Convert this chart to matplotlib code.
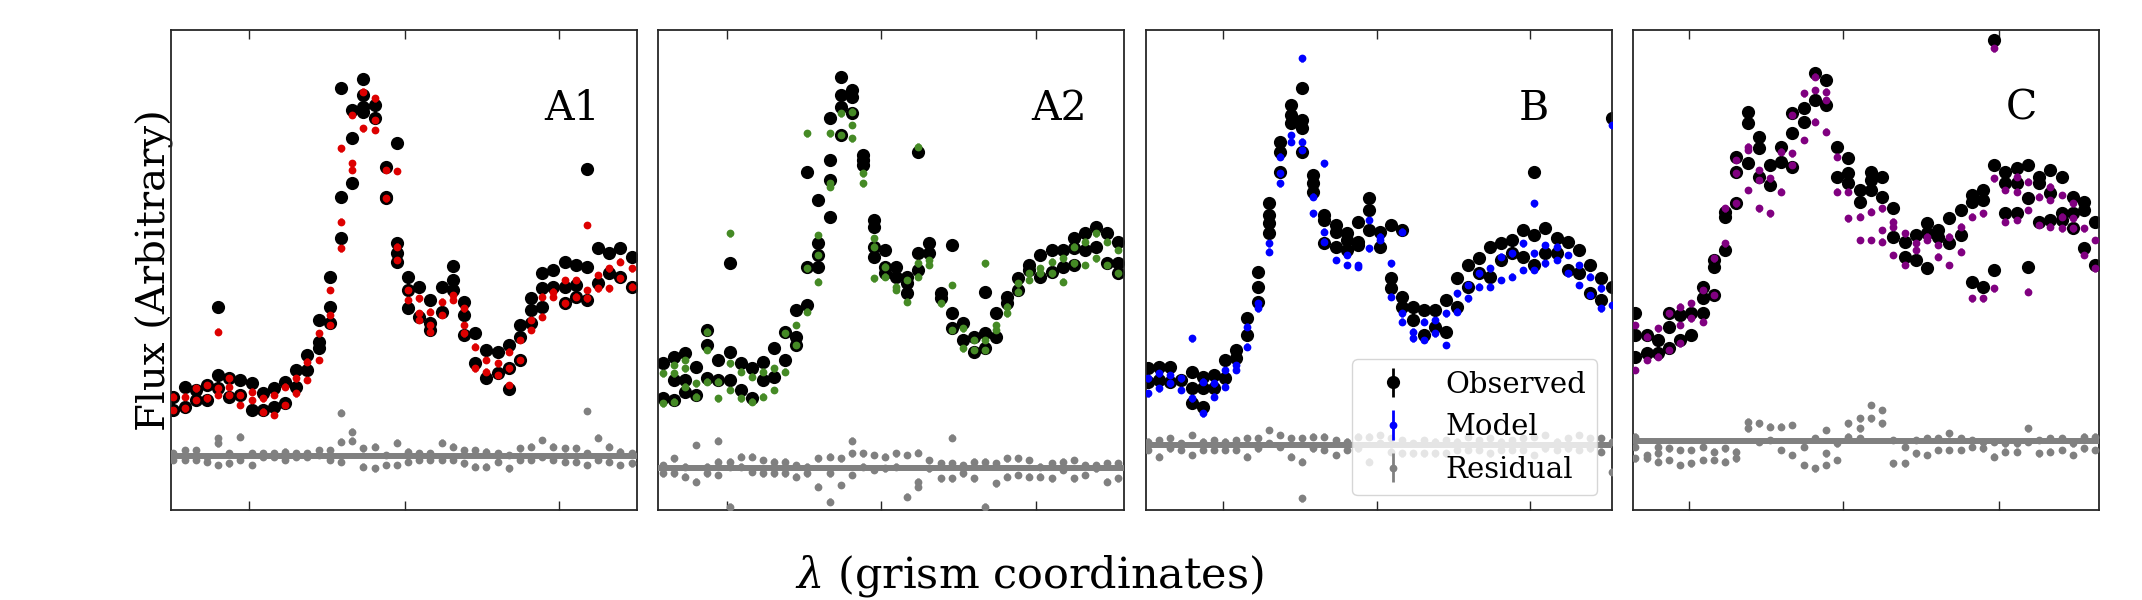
import matplotlib
matplotlib.use('Agg')
import matplotlib.pyplot as plt
import numpy as np

plt.rcParams['font.family'] = ['DejaVu Serif']
plt.rcParams['mathtext.fontset'] = 'dejavuserif'

panel_names = ['A1', 'A2', 'B', 'C']
model_colors = ['#dd0000', '#458a25', '#0000ff', '#800080']
residual_levels = [16.2, 12.7, 19.5, 20.8]
obs_err = 1.0
model_err = 1.0

# Flux values (arbitrary units) per wavelength column; several exposures per column
a1_obs = [
    [34, 30], [37, 31], [36, 33], [37.5, 33], [61, 40.5, 36.5], [39.5, 34], [39, 34.5], [38, 30], [35, 30], [36.5, 31],
    [38.5, 32], [42, 37], [46.5, 42], [57, 50.5, 48.5], [70, 61, 56], [126.5, 94, 81.5], [120, 111.5, 98],
    [129.2, 124.5, 121, 119.5], [121.5, 117.5], [103, 94, 93.5],
    [110.2, 80, 77, 74.5], [70, 66, 60.5], [67, 58], [63, 56, 54], [67, 59.5], [73.2, 69, 66], [62.5, 58.5, 52.5],
    [53, 44], [48, 39.5], [47.5, 41],
    [49.5, 42.5, 36.2], [55.5, 52, 45], [63.5, 60, 56], [71, 66.5, 61], [72, 67], [74.5, 67, 62], [73.5, 67.5, 64],
    [102.3, 73, 63], [78.5, 68], [77, 71],
    [78.5, 70], [76, 67]]
a1_model = [
    [34, 30], [34, 30.5], [36.5, 33], [37.5, 33.5], [53.5, 36.5, 34.5], [39.5, 37, 34.5], [34.5, 31.5], [35.5, 33],
    [33.5, 29.5], [34.5, 28.5],
    [37, 31.5], [39.5, 35], [44.5, 39], [53, 45], [66, 58.5, 55.5], [108.5, 86.5, 78.5], [118.5, 104, 102],
    [125.5, 114.5], [123.5, 117, 114], [102, 93.5],
    [101.7, 79, 75], [66, 63], [63.5, 59, 57], [59.5, 55.5, 53.5], [62.5, 58.5], [64.5, 63], [60.5, 55.5, 53],
    [49, 42.5], [45, 41.5], [44, 40.5],
    [47.5, 42.5, 37.5], [51, 45], [57, 54], [64, 58], [65.5, 64], [69, 62], [69, 64], [85.5, 66, 63.5], [70.5, 66.5],
    [72.5, 66.5],
    [74.5, 69.5], [72.5, 67]]
a1_res = [
    [17, 15], [18, 15], [18, 15], [16, 14.5], [21.5, 20, 13.5], [17, 14], [22, 15], [17, 13.5], [17, 16], [17, 16],
    [17.5, 15], [17, 16], [17, 16], [18, 16.5], [18, 15], [29.2, 20.5, 14.5], [23.5, 20.8], [18.5, 13], [19, 12.5],
    [16.5, 13.5],
    [20.2, 13.5], [17.5, 14.5], [17, 15], [17, 15], [20.2, 15], [19, 15], [18, 14], [18, 13], [17.5, 13], [17, 14.5],
    [16.5, 12.5], [18.5, 15], [19, 15], [21, 16], [19, 15], [18.5, 14.5], [18.5, 14.5], [29.7, 17, 13.5], [21.7, 15],
    [19, 14.5],
    [17.5, 13.5], [17, 14]]

a2_obs = [
    [44, 33.5], [46, 39, 33], [47, 39, 35.5], [43, 34.5], [54, 49.5, 39.5], [45, 39], [74, 47.5, 39], [44, 36],
    [42.5, 33.5], [44.5, 39],
    [48.5, 40], [53.5, 45], [60, 52, 49.5], [101.5, 73, 61.5], [93, 80, 76.5, 73], [117.5, 105, 99, 88],
    [130, 124.5, 121, 112.5], [126, 124, 119], [106.5, 105, 103.5], [87, 85, 79, 76],
    [78, 73, 71], [73, 70], [70, 68, 65], [107.5, 77, 72], [80, 77], [65, 63.5], [79.5, 59, 54.5], [56, 51],
    [52, 47.5], [65.5, 53, 48.5],
    [59, 52], [64, 62], [69.5, 66], [73.5, 72], [76.5, 70], [78, 71.5], [78, 73], [81.5, 78.5, 73.5], [83, 78],
    [85, 79],
    [83, 74], [80.5, 74, 71]]
a2_model = [
    [41, 32], [43.5, 41, 32.5], [45, 42.5, 37], [38, 34], [53.5, 48, 38.5], [38.5, 33.5], [83, 44, 36], [41.5, 33.5],
    [40, 32.5], [41.5, 34],
    [42.5, 36], [53, 41.5], [55.5, 49.5], [113, 72.5, 59.5], [82.5, 76.5, 68.5], [113, 98, 97], [119, 112.5],
    [119.5, 115.5, 111.5], [101, 98], [81.5, 79, 69.5],
    [73, 70], [67, 66], [69, 62.5], [109, 74, 70], [75, 73.5], [62], [67.5, 54], [54.5, 48.5], [51, 48],
    [74, 51, 48],
    [55.5, 54], [61, 59], [68, 65.5], [71, 69], [72.5, 71], [74.5, 71], [75.5, 68.5], [79, 74], [80.5, 73.5],
    [83, 75.5],
    [80.5, 73.5], [78, 71]]
a2_res = [
    [13.5, 11], [15.5, 11], [13, 10], [19.5, 8.5], [13, 11], [20.8, 14.5, 10.5], [14.5, 13, 1], [16, 13], [16, 11.5],
    [15, 11],
    [14.5, 11], [14.5, 11], [13.5, 10], [13, 11], [15.5, 7], [16, 11, 2.5], [15.5, 7.5], [20.8, 17, 10.5], [17, 13],
    [16.5, 12],
    [16, 12.5], [17, 13], [16.5, 4], [17.2, 8.5, 7], [15, 12.5], [14, 9.5], [21.7, 14, 9.5], [13.5, 11], [14.5, 9.5],
    [14.5, 1],
    [14, 8], [15.5, 10], [15.5, 10.5], [15, 10], [13, 10], [14, 9.5], [14.5, 12], [15, 9.5], [13.5, 10.5],
    [13.5, 12.5],
    [14, 8.5], [14, 9.5]]

b_obs = [
    [42.5, 38.5], [43, 39], [43, 38.5], [39], [41.5, 36.5, 32], [40, 36.5, 31], [40.5, 36.5], [45, 39.5], [48, 45.5],
    [57.5, 52.5],
    [71.5, 67, 62.5], [92, 88.5, 86, 83], [110.5, 107.5, 101.5], [121.5, 118.5, 116], [126.5, 117, 114.5, 107.5],
    [100.5, 98, 95.5], [88.5, 87, 80], [85.5, 83.5, 79], [83, 81, 78], [86.5, 80.5, 79.5],
    [93.5, 90, 84], [83.5, 79], [85.5, 69.5, 66.5], [84, 64, 61], [61, 57], [60, 52.5], [60, 55], [63, 53.5],
    [69.5, 61], [73.5, 67],
    [75.5, 71], [79, 70], [80, 75], [81, 77], [84, 76], [101.5, 82.5, 73.5], [84.5, 77], [81.5, 77], [80.5, 72],
    [78, 71],
    [73.5, 65], [69.5, 63], [117.5, 67]]
b_model = [
    [39.5, 35], [41, 36.5], [40.5, 38], [39.5, 36], [51.5, 33.5], [38.5, 29], [38, 34], [42, 37], [43.5, 42], [55, 49],
    [62, 60.5], [80, 77.5], [106, 101, 98], [112.5, 110.5], [135.5, 110.5, 108], [94, 89], [104, 83.5, 80.5], [75],
    [76.5, 73.5], [73.5, 73],
    [87, 78.5], [82, 81], [74, 64], [83.5, 59, 56.5], [53.5, 51.5], [56.5, 51], [57, 53], [59, 49.5], [65, 59.5],
    [67.5, 63.5],
    [71, 67], [72.5, 67], [76, 69], [77, 70], [80, 72], [92, 77, 72], [79.5, 74], [79, 75], [76.5, 71], [73.5, 67.5],
    [70, 64.5], [66.5, 60.5], [115.5, 61.5]]
b_res = [
    [20.5, 18], [21, 16], [21.5, 18.5], [20, 18], [22.5, 16.5], [20.5, 18], [21, 18], [20.5, 18], [21, 18], [21.5, 16],
    [21.5, 18.5], [24, 20], [22.5, 19], [21.5, 16], [21.5, 14.5, 3.5], [22, 18.5], [22, 18], [21, 16.5], [20.5, 18],
    [22, 18.5],
    [22, 14.5], [22.5, 20], [21.5, 17.5], [21, 17], [20, 17], [21, 17], [20.5, 17], [21, 17], [20.5, 18], [22, 18],
    [21, 18], [21.5, 17], [20.5, 18], [21, 18], [21.5, 18], [22, 16.5], [22.5, 18.5], [20.5, 18], [21.5, 18.5],
    [22.5, 18],
    [21.5, 18.5], [21.5, 17.5], [20.5, 11.5]]

c_obs = [
    [59, 52.5, 46], [52.5, 47], [51, 47], [59, 55, 48.5], [58.5, 51], [59, 52.5], [67, 63.5, 59], [75, 73, 64.5],
    [89.5, 88, 78], [106, 101.5, 92],
    [119.5, 116, 104], [112, 108.5, 100], [103.5, 97.5], [109, 104.5], [119, 113, 103], [120.5, 116.5], [131, 123],
    [129, 121.5], [109, 100], [105.5, 101, 98],
    [96, 92.5], [101.5, 99, 96], [100, 94], [90.5, 82], [80.5, 76], [82.5, 75], [86, 83, 72.5], [84, 82], [87.5, 80],
    [90, 82.5],
    [94.5, 92.5, 68.5], [96, 93, 67], [141, 103.5, 72], [101.5, 98, 89], [102.5, 98, 89], [103.5, 93.5, 73],
    [100, 98, 86.5], [102, 95, 87], [100, 89, 87], [94, 89, 84.5],
    [92.5, 90, 78.5], [86.5, 73.5]]
c_model = [
    [55.5, 42], [52, 45], [54.5, 46], [59, 48], [61, 55.5, 50], [62, 57.5], [66, 56.5], [75.5, 64.5], [90.5, 80],
    [105, 101, 92],
    [109, 108, 96], [102, 99, 90.5], [99.5, 89], [107.5, 95.5], [118.5, 107, 103.5], [125, 111], [130, 126, 116.5],
    [125.5, 123, 113.5], [106, 95.5], [95.5, 87.5],
    [88, 81], [89.5, 81], [90.5, 84, 80.5], [86.5, 85, 76.5], [83, 73.5], [80, 78], [82, 81], [79.5, 76], [82, 73.5],
    [85, 77.5],
    [88, 63.5], [89, 63.5], [138.5, 99.5, 66.5], [96, 86.5], [100, 95.5, 87], [98.5, 90, 65.5], [94, 85.5],
    [97, 93, 85], [94.5, 88, 84.5], [92, 87.5, 84.5],
    [84.5, 76.5], [81, 72.5]]
c_res = [
    [22, 19, 15.5], [16.5, 15.5], [19, 17, 14.5], [18.5, 15], [18, 13.5], [18, 14], [19, 15], [17.5, 15], [18.5, 14.5],
    [17.5, 15.5],
    [26.5, 24.5], [26, 20.5], [25, 21], [25, 18], [25.5, 16.5], [19, 13.5], [21.5, 12.5], [24, 17, 13.5], [20, 15],
    [26, 22],
    [27.5, 24.5, 21.5], [31.5, 27.5], [30, 26], [21, 14], [19, 14], [21, 17], [21.5, 16.5], [21.5, 18], [23, 18],
    [21.5, 18],
    [21, 19], [20.5, 18.5], [20.5, 16], [20, 17.5], [20, 17.5], [24.5, 20.5], [21, 17], [21.5, 17.5], [21.5, 18],
    [20, 16.5],
    [22, 18.5], [22, 18]]

panel_obs = [a1_obs, a2_obs, b_obs, c_obs]
panel_model = [a1_model, a2_model, b_model, c_model]
panel_res = [a1_res, a2_res, b_res, c_res]

# column-index ranges and tick positions (grism coordinates)
panel_xlim = [(-0.21, 41.48), (-0.45, 41.53), (-0.15, 42.02), (-0.21, 41.34)]
panel_xticks = [[6.76, 20.68, 34.53], [5.77, 19.67, 33.57], [6.81, 20.72, 34.64], [4.75, 18.55, 32.4]]


def flat(cols):
    xs, ys = [], []
    for i, c in enumerate(cols):
        for v in c:
            xs.append(i)
            ys.append(v)
    return np.array(xs, float), np.array(ys, float)


W, H = 2142, 600
fig = plt.figure(figsize=(W / 100, H / 100), dpi=100)
lefts = [171, 658, 1146, 1633]

for i in range(4):
    ax = fig.add_axes([lefts[i] / W, 90 / H, 466 / W, 480 / H])
    xo, yo = flat(panel_obs[i])
    xm, ym = flat(panel_model[i])
    xr, yr = flat(panel_res[i])
    h1 = ax.errorbar(xo, yo, yerr=obs_err, fmt='o', color='black', ms=9.5, mew=0,
                     elinewidth=2, label='Observed', zorder=2)
    h2 = ax.errorbar(xm, ym, yerr=model_err, fmt='o', color=model_colors[i], ms=5.6, mew=0,
                     elinewidth=2, label='Model', zorder=3)
    h3 = ax.errorbar(xr, yr, yerr=model_err, fmt='o', color='gray', ms=5.6, mew=0,
                     elinewidth=2, label='Residual', zorder=3)
    ax.axhline(residual_levels[i], color='gray', lw=4.3, zorder=3)
    ax.set_xlim(*panel_xlim[i])
    ax.set_ylim(0, 144)
    ax.set_yticks([])
    ax.set_xticks(panel_xticks[i])
    ax.tick_params(axis='x', direction='in', top=True, bottom=True, labelbottom=False,
                   length=6.5, width=1.0, color='0.15')
    for s in ax.spines.values():
        s.set_linewidth(1.3)
        s.set_color('0.15')
    ax.text(0.80, 0.8125, panel_names[i], transform=ax.transAxes, fontsize=29.5,
            ha='left', va='baseline')
    if i == 0:
        ax.set_ylabel('Flux (Arbitrary)', fontsize=29, labelpad=-2)
    if i == 2:
        ax.legend(handles=[h1, h2, h3], loc='lower right', fontsize=21)

fig.text(0.4805, 0.04, r'$\lambda$ (grism coordinates)', fontsize=31, ha='center', va='center')

fig.savefig('out.png', dpi=100)
